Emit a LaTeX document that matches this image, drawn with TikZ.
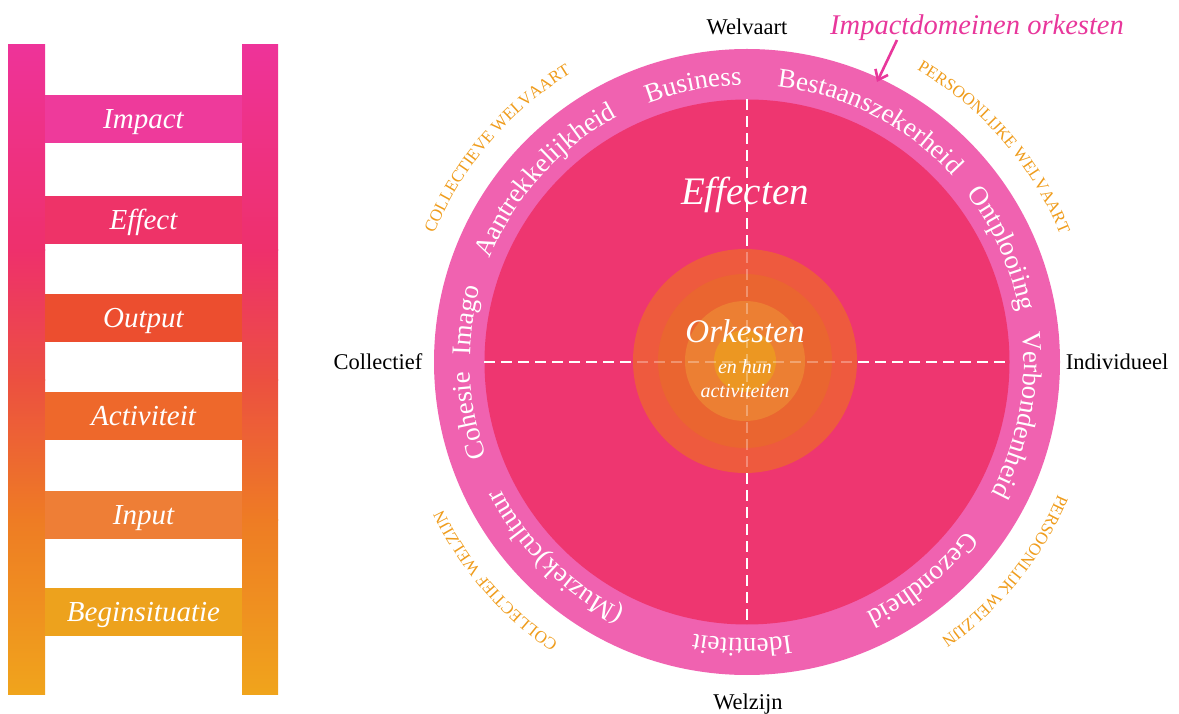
\documentclass[tikz,border=0pt]{standalone}
\usepackage{fontspec}
\setmainfont{Liberation Serif}
\usetikzlibrary{decorations.text,arrows.meta,calc}
\definecolor{ringpink}{HTML}{F062B0}
\definecolor{innerpink}{HTML}{EE3670}
\definecolor{orA}{HTML}{EE5A3E}
\definecolor{orB}{HTML}{EA6530}
\definecolor{orC}{HTML}{EC7F33}
\definecolor{orD}{HTML}{EC9722}
\definecolor{otext}{HTML}{EF9C1C}
\definecolor{magtext}{HTML}{E8379B}
\definecolor{ladA}{HTML}{EE3399}
\definecolor{ladB}{HTML}{EE306C}
\definecolor{ladC}{HTML}{EC5040}
\definecolor{ladD}{HTML}{EE7C24}
\definecolor{ladE}{HTML}{F0A41C}
\definecolor{rImpact}{HTML}{EE3A9B}
\definecolor{rEffect}{HTML}{EE3368}
\definecolor{rOutput}{HTML}{EC4E2F}
\definecolor{rActiv}{HTML}{EE682B}
\definecolor{rInput}{HTML}{EE7E36}
\definecolor{rBegin}{HTML}{EDA21D}
\newcommand{\rfont}{\fontsize{27}{27}\selectfont\color{white}}
\newcommand{\ofont}{\fontsize{17}{17}\selectfont\color{otext}}
\newcommand{\alongarc}[5]{\path[decorate,decoration={text along path,text align=center,text={|#4|#5}}] ($(C)+({#1+#2}:#3)$) arc[start angle={#1+#2}, end angle={#1-#2}, radius=#3];}
\tikzset{
  dashline/.style={white, line width=1.8pt, dash pattern=on 11pt off 6pt},
  rung/.style={rectangle, inner sep=0pt, minimum width=197pt, minimum height=48pt, text height=21pt, text depth=2pt, text=white, font=\fontsize{29}{29}\selectfont\itshape},
  disc/.style={circle, inner sep=0pt, draw=none},
  axislabel/.style={anchor=base, text=black, font=\fontsize{22.5}{22.5}\selectfont},
  centertext/.style={anchor=base, text=white},
}
\begin{document}
\begin{tikzpicture}[x=1pt,y=1pt]
\useasboundingbox (0,0) rectangle (1179,713);
% ladder rails
\foreach \xa/\xb in {8/45,242/278}{
  \shade[top color=ladA,bottom color=ladB] (\xa,668) rectangle (\xb,462.5);
  \shade[top color=ladB,bottom color=ladC] (\xa,463) rectangle (\xb,332.5);
  \shade[top color=ladC,bottom color=ladD] (\xa,333) rectangle (\xb,192.5);
  \shade[top color=ladD,bottom color=ladE] (\xa,193) rectangle (\xb,19);
}
\node[rung, fill=rImpact] (impact) at (143.5,594) {Impact};
\node[rung, fill=rEffect] (effect) at (143.5,492.5) {Effect};
\node[rung, fill=rOutput] (output) at (143.5,395) {Output};
\node[rung, fill=rActiv] (activ) at (143.5,296.5) {Activiteit};
\node[rung, fill=rInput] (input) at (143.5,198) {Input};
\node[rung, fill=rBegin] (begin) at (143.5,101) {Beginsituatie};
% circle
\coordinate (C) at (747,351);
\node[disc, fill=ringpink, minimum size=626pt] (outer) at (C) {};
\node[disc, fill=innerpink, minimum size=525pt] (inner) at (C) {};
\draw[dashline] (inner.north) -- (inner.south);
\draw[dashline] (inner.west) -- (inner.east);
\node[disc, fill=orA, minimum size=224pt] (o1) at (745,352) {};
\node[disc, fill=orB, minimum size=174pt] (o2) at (745,352) {};
\node[disc, fill=orC, minimum size=120pt] (o3) at (745,352) {};
\node[disc, fill=orD, minimum size=62pt] (o4) at (745,352) {};
\begin{scope}
  \clip (o1.center) circle[radius=112pt];
  \draw[dashline, opacity=0.3] (inner.north) -- (inner.south);
  \draw[dashline, opacity=0.3] (inner.west) -- (inner.east);
\end{scope}
\node[centertext, font=\fontsize{39}{39}\selectfont\itshape] (effecten) at (745,508) {Effecten};
\node[centertext, font=\fontsize{33}{33}\selectfont\itshape] (orkesten) at (745,370) {Orkesten};
\node[centertext, font=\fontsize{20}{20}\selectfont\itshape] (enhun) at (745,339) {en hun};
\node[centertext, font=\fontsize{20}{20}\selectfont\itshape] (activiteiten) at (745,315) {activiteiten};
% ring labels
\alongarc{101}{45}{277pt}{\rfont}{Business}
\alongarc{63}{45}{277pt}{\rfont}{Bestaanszekerheid}
\alongarc{24}{45}{277pt}{\rfont}{Ontplooiing}
\alongarc{-11}{45}{277pt}{\rfont}{Verbondenheid}
\alongarc{-51}{45}{277pt}{\rfont}{Gezondheid}
\alongarc{-91}{45}{277pt}{\rfont}{Identiteit}
\alongarc{-134.5}{45}{277pt}{\rfont}{(Muziek)cultuur}
\alongarc{-169}{45}{277pt}{\rfont}{Cohesie}
\alongarc{171.5}{45}{277pt}{\rfont}{Imago}
\alongarc{138}{45}{277pt}{\rfont}{Aantrekkelijkheid}
% outer orange labels
\alongarc{139.5}{45}{338pt}{\ofont}{COLLECTIEVE WELVAART}
\alongarc{41}{45}{338pt}{\ofont}{PERSOONLIJKE WELVAART}
\alongarc{-39}{45}{338pt}{\ofont}{PERSOONLIJK WELZIJN}
\alongarc{-139}{45}{338pt}{\ofont}{COLLECTIEF WELZIJN}
% axis labels
\node[axislabel] (welvaart) at (747,678) {Welvaart};
\node[axislabel] (welzijn) at (748,4) {Welzijn};
\node[axislabel] (collectief) at (378,343) {Collectief};
\node[axislabel] (individueel) at (1117,343) {Individueel};
% title and arrow
\node[anchor=base, text=magtext, font=\fontsize{28.5}{28.5}\selectfont\itshape] (title) at (977,678) {Impactdomeinen orkesten};
\coordinate (arrstart) at (897,673);
\coordinate (arrtip) at (877,631);
\draw[magtext, line width=2.6pt, -{Straight Barb[length=9pt,width=14pt]}] (arrstart) -- (arrtip);
\end{tikzpicture}
\end{document}
